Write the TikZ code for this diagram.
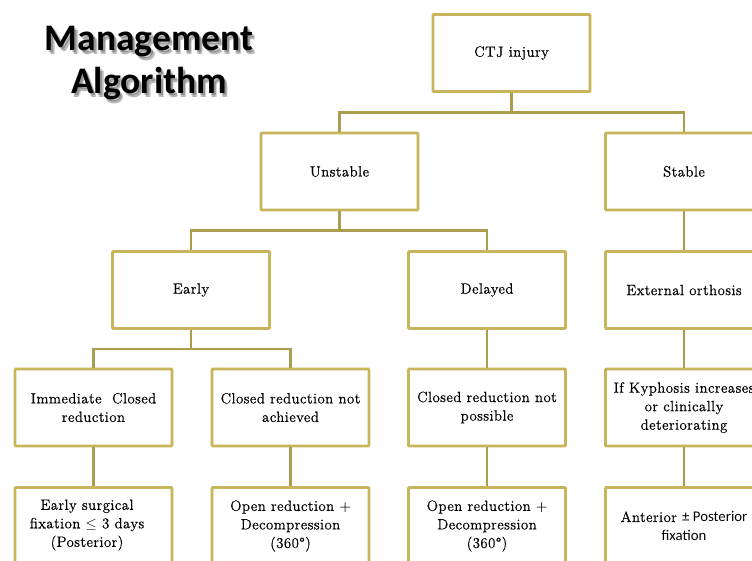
\documentclass[tikz,border=0pt]{standalone}
\usepackage{fontspec}
\newfontfamily\titlefont{Carlito}
\newfontfamily\calsans{Carlito}
\newfontfamily\boxface{lmroman12-regular.otf}[LetterSpace=3,FakeBold=0.6]
\definecolor{boxc}{RGB}{200,180,90}
\definecolor{linec}{RGB}{172,156,78}
\newcommand\boxfnt{\boxface\fontsize{14.8}{18.5}\selectfont}
\begin{document}
\begin{tikzpicture}[x=1pt,y=-1pt,
  box/.style={draw=boxc, line width=2.6pt, rounded corners=0.8pt, minimum width=157pt, minimum height=77pt, align=center, inner sep=0pt, font=\boxfnt, text=black},
  conn/.style={draw=linec, line width=2.6pt},
  ttl/.style={font=\titlefont\bfseries\fontsize{37.5}{43}\selectfont, align=center}]
\clip (0,0) rectangle (752,561);
\fill[white] (0,0) rectangle (752,561);
% title with soft shadow
\foreach \dx/\dy/\op in {2/2.5/0.2,3.5/4/0.18,2.5/4.5/0.12}{
  \node[ttl, text=black, opacity=\op] at (149+\dx,63+\dy) {Management\\Algorithm};
}
\node[ttl, text=black] (title) at (149,63) {Management\\Algorithm};
% nodes
\node[box] (ctj) at (511.5,53) {CTJ injury};
\node[box] (unstable) at (339.5,171.5) {Unstable};
\node[box] (stable) at (684,171.5) {Stable};
\node[box] (early) at (191,290) {Early};
\node[box] (delayed) at (487,290) {Delayed};
\node[box] (ext) at (684,290) {External orthosis};
\node[box] (imm) at (93.5,407.5) {Immediate\ \ Closed\\reduction};
\node[box] (crna) at (290.5,407.5) {Closed reduction not\\achieved};
\node[box] (crnp) at (487,407.5) {Closed reduction not\\possible};
\node[box] (kyph) at (684,407.5) {If Kyphosis increases\\or clinically\\deteriorating};
\node[box] (esf) at (93.5,526) {};
\node[font=\boxfnt, align=center, text=black] (esft) at (87,525) {Early surgical\\fixation $\leq$ 3 days\\(Posterior)};
\node[box] (ord1) at (290.5,526) {Open reduction +\\Decompression\\(360°)};
\node[box] (ord2) at (487,526) {Open reduction +\\Decompression\\(360°)};
\node[box] (ant) at (684,526) {Anterior {\calsans ± Posterior}\\{\calsans fixation}};
% connectors
\draw[conn] (ctj.south) -- ++(0,20) -| (unstable.north);
\draw[conn] (ctj.south) -- ++(0,20) -| (stable.north);
\draw[conn] (unstable.south) -- ++(0,19) -| (early.north);
\draw[conn] (unstable.south) -- ++(0,19) -| (delayed.north);
\draw[conn] (early.south) -- ++(0,19) -| (imm.north);
\draw[conn] (early.south) -- ++(0,19) -| (crna.north);
\draw[conn] (stable.south) -- (ext.north);
\draw[conn] (ext.south) -- (kyph.north);
\draw[conn] (delayed.south) -- (crnp.north);
\draw[conn] (imm.south) -- (esf.north);
\draw[conn] (crna.south) -- (ord1.north);
\draw[conn] (crnp.south) -- (ord2.north);
\draw[conn] (kyph.south) -- (ant.north);
\end{tikzpicture}
\end{document}
